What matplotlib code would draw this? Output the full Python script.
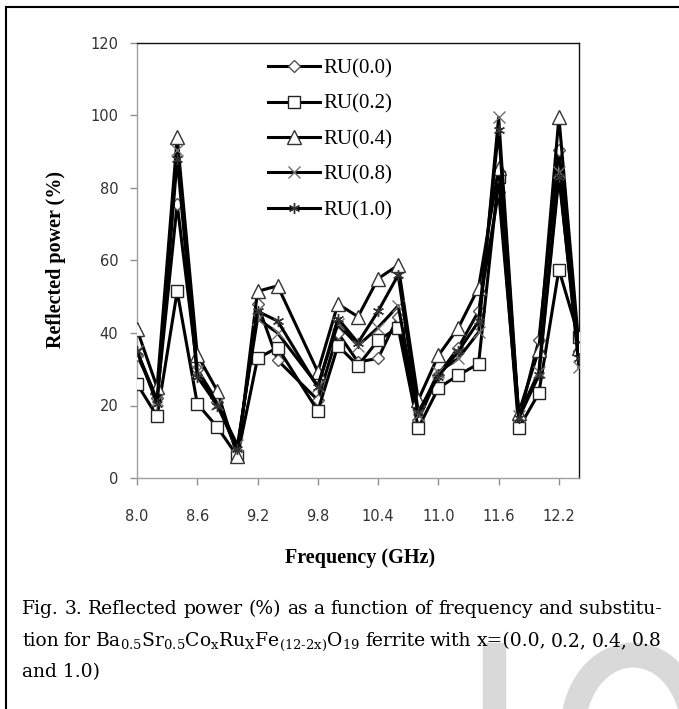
import matplotlib
matplotlib.use("Agg")
import matplotlib.pyplot as plt
from matplotlib.lines import Line2D
from matplotlib.patches import Rectangle, Arc
from matplotlib.transforms import IdentityTransform

# ---------------- data ----------------
freq = [8.0, 8.2, 8.4, 8.6, 8.8, 9.0, 9.2, 9.4, 9.8, 10.0, 10.2, 10.4, 10.6,
        10.8, 11.0, 11.2, 11.4, 11.6, 11.8, 12.0, 12.2, 12.4]
ru00 = [34, 22, 75.5, 30, 21, 7, 48, 32.5, 21.5, 40, 32, 33, 44.5,
        16, 28.5, 36, 46, 79, 16, 38, 90.5, 35]
ru02 = [26, 17, 51.5, 20.5, 14, 6, 33, 36, 18.5, 36.5, 31, 38, 41.5,
        13.8, 24.8, 28.4, 31.5, 83, 13.7, 23.4, 57.5, 38.8]
ru04 = [41, 25, 94, 34, 24, 6, 51.5, 53, 29.3, 48, 44.5, 55, 58.7,
        21.5, 33.8, 41.5, 52.5, 85.5, 18, 35.3, 99.5, 36]
ru08 = [35, 21.5, 90.5, 29.5, 20.5, 9, 44, 40, 25.5, 42.5, 36.5, 41.5, 47.5,
        17.5, 29.2, 33, 40.2, 99.5, 17.2, 29.3, 84.5, 30.5]
ru10 = [35, 20.5, 88, 28, 20, 8, 46, 43.3, 25, 44, 37.3, 46, 56,
        18.3, 28, 35, 43.2, 96, 16.5, 28.3, 83, 33]

series_labels = ["RU(0.0)", "RU(0.2)", "RU(0.4)", "RU(0.8)", "RU(1.0)"]
x_ticks = [8.0, 8.6, 9.2, 9.8, 10.4, 11.0, 11.6, 12.2]
y_ticks = [0, 20, 40, 60, 80, 100, 120]

x_label = "Frequency (GHz)"
y_label = "Reflected power (%)"
caption1 = "Fig. 3. Reflected power (%) as a function of frequency and substitu-"
caption2 = (r"tion for Ba$_{\mathrm{0.5}}$Sr$_{\mathrm{0.5}}$Co$_{\mathrm{x}}$Ru$_{\mathrm{X}}$"
            r"Fe$_{\mathrm{(12\text{-}2x)}}$O$_{\mathrm{19}}$ ferrite with x=(0.0, 0.2, 0.4, 0.8")
caption3 = "and 1.0)"

# ---------------- style ----------------
plt.rcParams["mathtext.fontset"] = "custom"
plt.rcParams["mathtext.rm"] = "DejaVu Serif"
plt.rcParams["mathtext.it"] = "DejaVu Serif:italic"
plt.rcParams["mathtext.bf"] = "DejaVu Serif:bold"

W, H = 679, 709
fig = plt.figure(figsize=(W / 100, H / 100), dpi=100)
fig.patch.set_facecolor("white")

ax = fig.add_axes([137 / W, 1 - 478 / H, (579 - 137) / W, (478 - 43) / H])

styles = [
    dict(marker="D", ms=6.5, mec="#555555"),
    dict(marker="s", ms=9, mec="#222222"),
    dict(marker="^", ms=9.5, mec="#333333"),
    dict(marker="x", ms=8, mec="#707070"),
    dict(marker=(6, 2, 0), ms=8, mec="#333333"),
]
all_series = [ru00, ru02, ru04, ru08, ru10]
for i, (vals, lab, st) in enumerate(zip(all_series, series_labels, styles)):
    ax.plot(freq, vals, color="black", lw=2.2, marker=st["marker"], ms=st["ms"],
            mfc="white", mec=st["mec"], mew=1.0, label=lab, zorder=3 + i)

ax.set_xlim(8.0, 12.4)
ax.set_ylim(0, 120)
ax.set_xticks(x_ticks)
ax.set_xticklabels([f"{v:.1f}" for v in x_ticks])
ax.set_yticks(y_ticks)
ax.set_yticklabels([str(v) for v in y_ticks])
ax.tick_params(axis="x", direction="out", length=5, width=1, color="#909090",
               pad=17, labelsize=10.5, labelcolor="#333333")
ax.tick_params(axis="y", direction="out", length=5, width=1, color="#909090",
               pad=8.5, labelsize=10.5, labelcolor="#333333")
for lab in ax.get_xticklabels() + ax.get_yticklabels():
    lab.set_family("DejaVu Sans")
ax.spines["left"].set_color("#a0a0a0")
ax.spines["bottom"].set_color("#a0a0a0")
ax.spines["top"].set_color("#111111")
ax.spines["right"].set_color("#111111")
for s in ax.spines.values():
    s.set_linewidth(1.0)

leg = ax.legend(loc="upper left", bbox_to_anchor=(0.2964, 0.9635), frameon=False,
                borderpad=0, borderaxespad=0, handlelength=2.5, handletextpad=0.15,
                labelspacing=0.76, prop={"family": "Liberation Serif", "size": 15})

fig.text(360 / W, 1 - 558 / H, x_label, ha="center", va="center",
         family="Liberation Serif", weight="bold", fontsize=14.5)
fig.text(56 / W, 1 - 259 / H, y_label, ha="center", va="center", rotation=90,
         family="Liberation Serif", weight="bold", fontsize=14.5)

# watermark shapes (light grey, behind everything)
fig.patches.append(Rectangle((483 / W, 0), 22 / W, (H - 643) / H,
                             transform=fig.transFigure, color="#d9d9d9", zorder=0))
fig.patches.append(Arc((633, H - 730), 120, 150, theta1=0, theta2=180,
                       transform=IdentityTransform(), color="#d9d9d9", lw=18,
                       zorder=0))

# page frame lines
fig.add_artist(Line2D([6 / W, 6 / W], [0, 1 - 7 / H], transform=fig.transFigure,
                      color="black", lw=1.5))
fig.add_artist(Line2D([6 / W, 1], [1 - 7 / H, 1 - 7 / H], transform=fig.transFigure,
                      color="black", lw=1.5))

# caption (justified)
cap_kw = dict(family="DejaVu Serif", fontsize=13.5, color="black", va="baseline")
fig.canvas.draw()
renderer = fig.canvas.get_renderer()


def justify(text, ybase, x0, x1):
    words = []
    buf = ""
    depth = 0
    for ch in text:
        if ch == "$":
            depth ^= 1
        if ch == " " and depth == 0:
            if buf:
                words.append(buf)
            buf = ""
        else:
            buf += ch
    if buf:
        words.append(buf)
    ts = [fig.text(0, 1 - ybase / H, w, ha="left", **cap_kw) for w in words]
    widths = [t.get_window_extent(renderer).width for t in ts]
    gap = (x1 - x0 - sum(widths)) / (len(ts) - 1)
    x = x0
    for t, w in zip(ts, widths):
        t.set_x(x / W)
        x += w + gap


justify(caption1, 614, 22, 662)
justify(caption2, 646, 22, 662)
fig.text(22 / W, 1 - 677 / H, caption3, ha="left", **cap_kw)

fig.savefig("out.png", dpi=100)
